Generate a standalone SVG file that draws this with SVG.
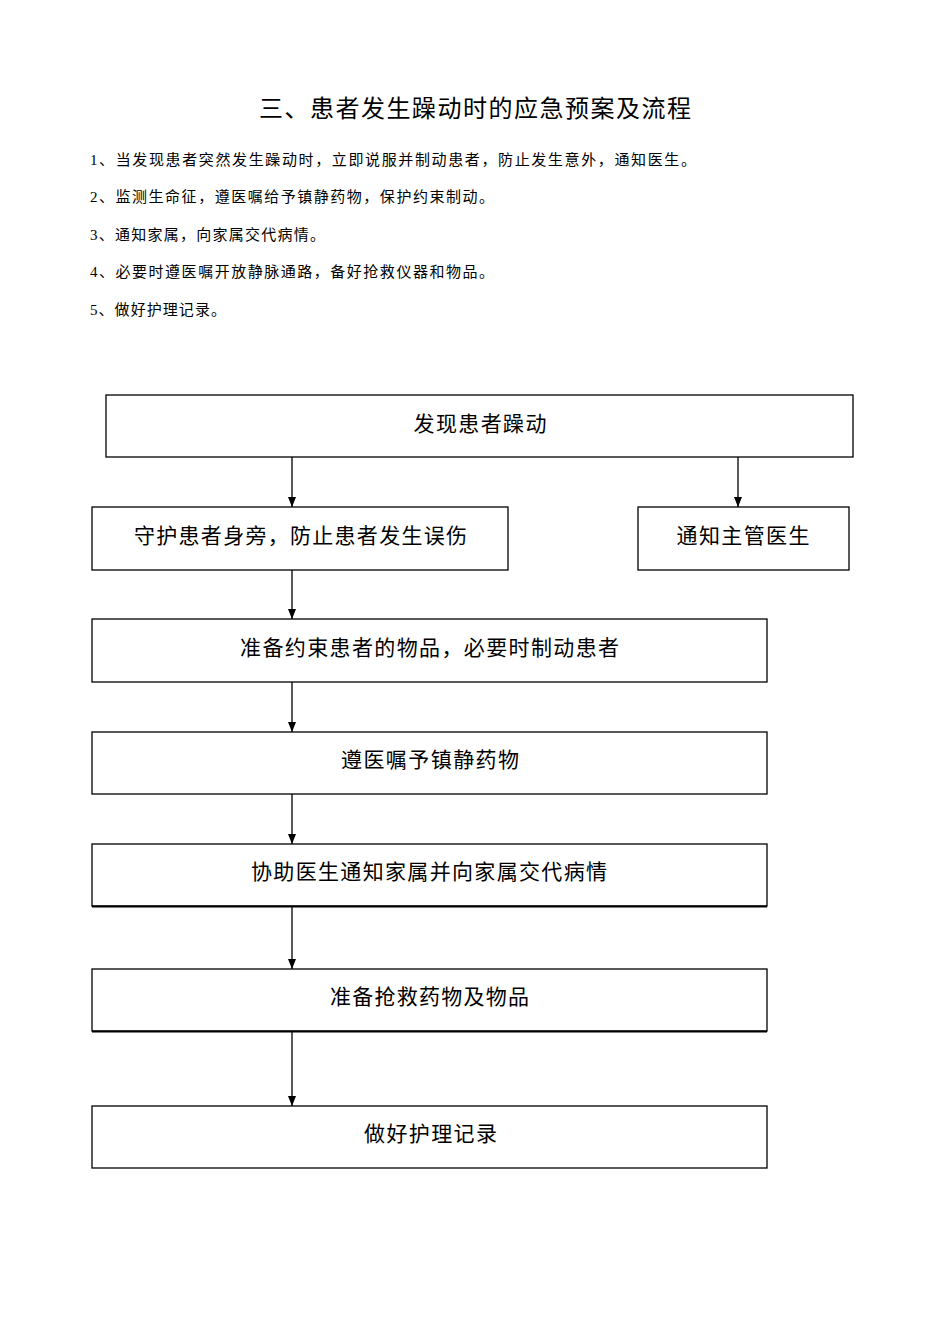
<svg xmlns="http://www.w3.org/2000/svg" width="950" height="1344" viewBox="0 0 950 1344">
<style>
text { font-family: "Liberation Serif", "Noto Sans CJK SC", serif; fill: #000; }
.title { font-size: 24px; }
.item { font-size: 15px; }
.lbl { font-size: 21px; text-anchor: middle; }
.box { fill: #fff; stroke: #000; stroke-width: 1.3; }
.conn { stroke: #000; stroke-width: 1.3; fill: none; marker-end: url(#arr); }
</style>
<defs>
<marker id="arr" markerWidth="10" markerHeight="8" refX="10" refY="4" orient="auto" markerUnits="userSpaceOnUse">
<path d="M0,0 L10,4 L0,8 Z" fill="#000"/>
</marker>
</defs>
<rect width="950" height="1344" fill="#fff"/>
<text class="title" x="259" y="117" textLength="432" lengthAdjust="spacing">三、患者发生躁动时的应急预案及流程</text>
<g id="list">
<text class="item" x="90" y="165" textLength="606" lengthAdjust="spacing">1、当发现患者突然发生躁动时，立即说服并制动患者，防止发生意外，通知医生。</text>
<text class="item" x="90" y="202" textLength="404" lengthAdjust="spacing">2、监测生命征，遵医嘱给予镇静药物，保护约束制动。</text>
<text class="item" x="90" y="240" textLength="235" lengthAdjust="spacing">3、通知家属，向家属交代病情。</text>
<text class="item" x="90" y="277" textLength="404" lengthAdjust="spacing">4、必要时遵医嘱开放静脉通路，备好抢救仪器和物品。</text>
<text class="item" x="90" y="315" textLength="136" lengthAdjust="spacing">5、做好护理记录。</text>
</g>
<g id="connectors">
<line class="conn" x1="292" y1="457" x2="292" y2="507"/>
<line class="conn" x1="738" y1="457" x2="738" y2="507"/>
<line class="conn" x1="292" y1="570" x2="292" y2="619"/>
<line class="conn" x1="292" y1="682" x2="292" y2="732"/>
<line class="conn" x1="292" y1="794" x2="292" y2="844"/>
<line class="conn" x1="292" y1="907" x2="292" y2="969"/>
<line class="conn" x1="292" y1="1032" x2="292" y2="1106"/>
</g>
<g id="n1"><rect class="box" x="106" y="395" width="747" height="62"/><text class="lbl" x="480" y="431" textLength="133" lengthAdjust="spacing">发现患者躁动</text></g>
<g id="n2"><rect class="box" x="92" y="507" width="416" height="63"/><text class="lbl" x="300.5" y="543" textLength="333" lengthAdjust="spacing">守护患者身旁，防止患者发生误伤</text></g>
<g id="n3"><rect class="box" x="638" y="507" width="211" height="63"/><text class="lbl" x="743" y="543" textLength="133" lengthAdjust="spacing">通知主管医生</text></g>
<g id="n4"><rect class="box" x="92" y="619" width="675" height="63"/><text class="lbl" x="429.5" y="655" textLength="379" lengthAdjust="spacing">准备约束患者的物品，必要时制动患者</text></g>
<g id="n5"><rect class="box" x="92" y="732" width="675" height="62"/><text class="lbl" x="430" y="767" textLength="178" lengthAdjust="spacing">遵医嘱予镇静药物</text></g>
<g id="n6"><rect class="box" x="92" y="844" width="675" height="62"/><text class="lbl" x="429" y="879" textLength="356" lengthAdjust="spacing">协助医生通知家属并向家属交代病情</text><line x1="92" y1="906.5" x2="767" y2="906.5" stroke="#000" stroke-width="2"/></g>
<g id="n7"><rect class="box" x="92" y="969" width="675" height="62"/><text class="lbl" x="429.5" y="1004" textLength="199" lengthAdjust="spacing">准备抢救药物及物品</text><line x1="92" y1="1031.5" x2="767" y2="1031.5" stroke="#000" stroke-width="2"/></g>
<g id="n8"><rect class="box" x="92" y="1106" width="675" height="62"/><text class="lbl" x="430.5" y="1141" textLength="133" lengthAdjust="spacing">做好护理记录</text></g>
</svg>
